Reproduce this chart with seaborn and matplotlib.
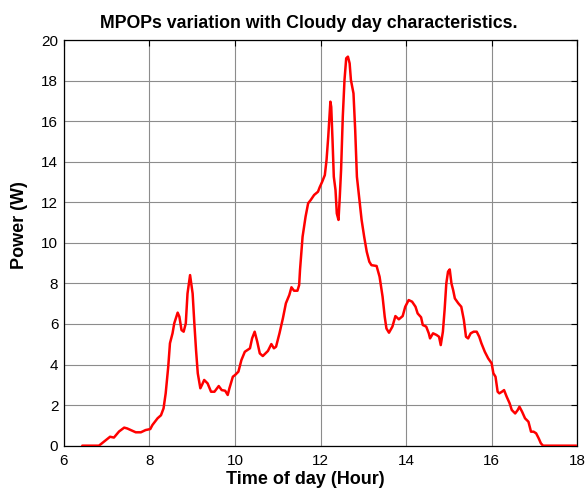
import matplotlib
matplotlib.use("Agg")
import matplotlib.pyplot as plt
import seaborn as sns
import pandas as pd

# Maximum power operating point (MPOP) trace over a cloudy day
hours = [
    6.43, 6.82, 6.94, 7.08, 7.17, 7.29, 7.41, 7.48, 7.68, 7.80, 7.91, 8.02,
    8.07, 8.19, 8.27, 8.33, 8.38, 8.44, 8.48, 8.54, 8.58, 8.66, 8.70, 8.75,
    8.80, 8.85, 8.89, 8.95, 9.01, 9.05, 9.09, 9.13, 9.19, 9.23, 9.28, 9.36,
    9.44, 9.52, 9.62, 9.69, 9.77, 9.83, 9.87, 9.95, 10.00, 10.08, 10.15, 10.23,
    10.35, 10.40, 10.46, 10.52, 10.58, 10.65, 10.77, 10.85, 10.91, 10.96,
    11.04, 11.12, 11.19, 11.27, 11.32, 11.38, 11.46, 11.50, 11.52, 11.58,
    11.65, 11.71, 11.77, 11.85, 11.94, 11.98, 12.04, 12.10, 12.14, 12.18,
    12.21, 12.23, 12.25, 12.28, 12.31, 12.35, 12.38, 12.42, 12.45, 12.48,
    12.52, 12.56, 12.60, 12.64, 12.68, 12.71, 12.77, 12.81, 12.85, 12.91,
    12.96, 13.02, 13.08, 13.14, 13.19, 13.31, 13.38, 13.45, 13.50, 13.54,
    13.60, 13.68, 13.75, 13.83, 13.92, 13.98, 14.06, 14.14, 14.22, 14.27,
    14.35, 14.39, 14.47, 14.53, 14.56, 14.63, 14.71, 14.77, 14.81, 14.86,
    14.90, 14.94, 14.98, 15.02, 15.06, 15.10, 15.14, 15.22, 15.29, 15.35,
    15.40, 15.45, 15.51, 15.58, 15.65, 15.71, 15.76, 15.84, 15.92, 16.00,
    16.04, 16.09, 16.14, 16.18, 16.24, 16.29, 16.35, 16.42, 16.47, 16.55,
    16.61, 16.65, 16.71, 16.78, 16.86, 16.92, 16.98, 17.04, 17.10, 17.15,
    17.20, 17.98,
]
power = [
    0.0, 0.0, 0.20, 0.44, 0.40, 0.70, 0.89, 0.85, 0.66, 0.66, 0.77, 0.82,
    1.02, 1.35, 1.50, 1.84, 2.58, 3.90, 5.05, 5.54, 6.03, 6.56, 6.36, 5.70,
    5.62, 6.03, 7.50, 8.41, 7.50, 6.03, 4.70, 3.57, 2.83, 3.00, 3.24, 3.07,
    2.66, 2.66, 2.94, 2.74, 2.71, 2.50, 2.83, 3.40, 3.48, 3.65, 4.22, 4.63,
    4.80, 5.29, 5.62, 5.13, 4.55, 4.42, 4.67, 5.01, 4.80, 4.88,
    5.54, 6.28, 7.02, 7.43, 7.81, 7.64, 7.64, 7.92, 8.66, 10.30,
    11.29, 11.95, 12.11, 12.36, 12.52, 12.74, 13.02, 13.34, 14.08, 15.23,
    16.22, 16.96, 16.70, 15.07, 13.26, 12.60, 11.45, 11.13, 12.28, 13.59,
    16.22, 18.03, 19.10, 19.18, 18.85, 18.03, 17.37, 15.56, 13.26, 12.11,
    11.13, 10.30, 9.56, 9.07, 8.90, 8.86, 8.33, 7.35, 6.36, 5.78,
    5.57, 5.87, 6.39, 6.23, 6.39, 6.85, 7.18, 7.10, 6.85, 6.52,
    6.33, 5.95, 5.87, 5.54, 5.29, 5.54, 5.46, 5.37, 4.96, 5.62,
    6.69, 8.00, 8.58, 8.69, 8.00, 7.67, 7.26, 7.02, 6.85, 6.20,
    5.37, 5.29, 5.54, 5.62, 5.62, 5.37, 5.05, 4.63, 4.30, 4.06,
    3.57, 3.40, 2.66, 2.58, 2.66, 2.74, 2.42, 2.09, 1.76, 1.59,
    1.76, 1.92, 1.68, 1.35, 1.18, 0.69, 0.69, 0.61, 0.36, 0.12,
    0.0, 0.0,
]

x_ticks = [6, 8, 10, 12, 14, 16, 18]
y_ticks = [0, 2, 4, 6, 8, 10, 12, 14, 16, 18, 20]

df = pd.DataFrame({"Time": hours, "Power": power})

sns.set_style("white")
plt.rcParams["font.family"] = ["Liberation Sans", "DejaVu Sans"]
plt.rcParams["text.color"] = "black"
plt.rcParams["axes.labelcolor"] = "black"

fig = plt.figure(figsize=(5.86, 4.91), dpi=100)
ax = fig.add_axes([0.109, 0.0923, 0.876, 0.8262])

sns.lineplot(data=df, x="Time", y="Power", ax=ax, color="#ff0000",
             linewidth=1.8, estimator=None, sort=False, zorder=3)

ax.set_xlim(6, 18)
ax.set_ylim(0, 20)
ax.set_xticks(x_ticks)
ax.set_yticks(y_ticks)
ax.set_xticklabels([str(t) for t in x_ticks], fontsize=11)
ax.set_yticklabels([str(t) for t in y_ticks], fontsize=11)
ax.tick_params(axis="x", direction="in", length=4, width=0.8, top=True,
               colors="black", labelcolor="black", pad=6)
ax.tick_params(axis="y", direction="in", length=4, width=0.8, right=True,
               colors="black", labelcolor="black", pad=4)

ax.grid(True, color="#8c8c8c", linewidth=0.8, linestyle="-", zorder=0)
for side in ax.spines.values():
    side.set_color("black")
    side.set_linewidth(0.9)

ax.set_xlabel("Time of day (Hour)", fontsize=13, fontweight="bold",
              color="black", labelpad=2, x=0.47)
ax.set_ylabel("Power (W)", fontsize=13, fontweight="bold", color="black")
ax.yaxis.set_label_coords(-0.070, 0.544)
ax.set_title("MPOPs variation with Cloudy day characteristics.", fontsize=12.8,
             fontweight="bold", color="black", pad=9, x=0.477)

fig.savefig("out.png", dpi=100)
